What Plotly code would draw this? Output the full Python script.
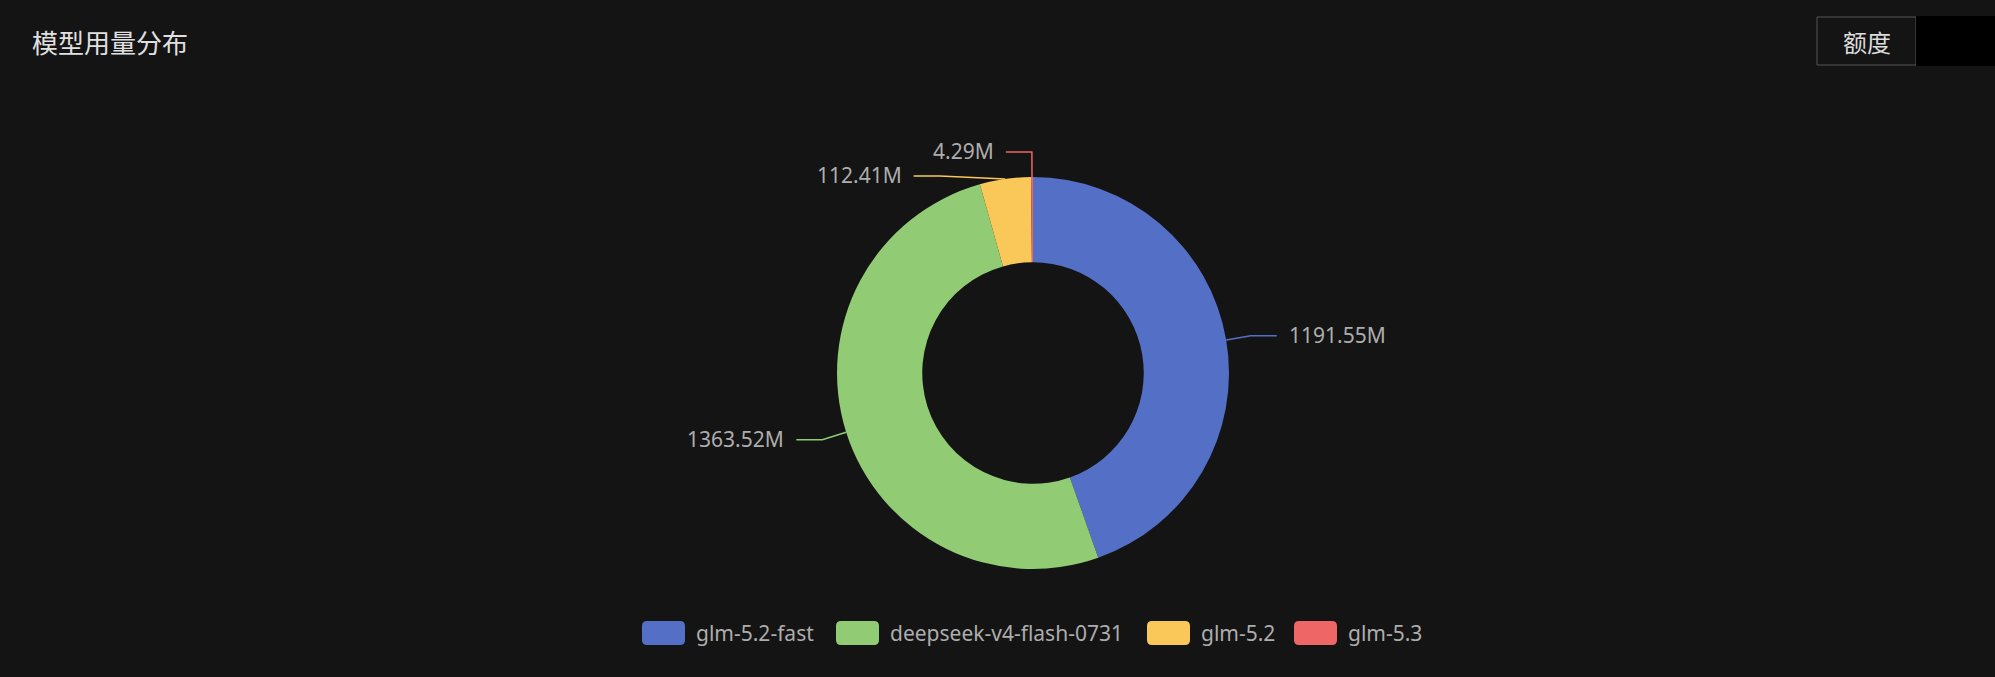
import math
import plotly.graph_objects as go

# chart data
models = ["glm-5.2-fast", "deepseek-v4-flash-0731", "glm-5.2", "glm-5.3"]
usage_m = [1191.55, 1363.52, 112.41, 4.29]
colors = ["#5470c6", "#91cc75", "#fac858", "#ee6666"]
title_text = "模型用量分布"
button_text = "额度"

# layout (pixels)
W, H = 1995, 677
BG = "#141414"
cx, cy, R = 1033, 373, 196
len1, len2, gap = 25, 26, 10
line_h = 24
legend_x = [642, 836, 1147, 1294]
legend_y = 633
latin = "Noto Sans, Noto Sans CJK SC, sans-serif"
cjk = "Noto Sans CJK SC, sans-serif"

fig = go.Figure()
fig.add_trace(go.Pie(
    labels=models, values=usage_m, hole=0.565, sort=False,
    direction="clockwise", rotation=0,
    marker=dict(colors=colors, line=dict(width=0)),
    textinfo="none", showlegend=False,
    domain=dict(x=[(cx - R) / W, (cx + R) / W], y=[1 - (cy + R) / H, 1 - (cy - R) / H]),
    hovertemplate="%{label}<br>%{value:.2f}M<extra></extra>",
))

# label lines, echarts style
total = sum(usage_m)
acc = 0
items = []
for name, v, c in zip(models, usage_m, colors):
    mid = (acc + v / 2) / total * 2 * math.pi
    acc += v
    sx, sy = math.sin(mid), -math.cos(mid)
    side = 1 if sx >= 0 else -1
    elbow = (cx + (R + len1) * sx, cy + (R + len1) * sy)
    items.append(dict(v=v, c=c, side=side, edge=(cx + R * sx, cy + R * sy),
                      elbow=elbow, y=elbow[1]))

# push overlapping labels apart, elbow slides along the circle
for side in (1, -1):
    group = sorted([it for it in items if it["side"] == side], key=lambda it: it["y"])
    for a, b in zip(group, group[1:]):
        if b["y"] - a["y"] < line_h:
            b["y"] = a["y"] + line_h
            dy = b["y"] - cy
            dx = math.sqrt(max((R + len1 - 3) ** 2 - dy ** 2, 0))
            b["elbow"] = (cx + side * dx, b["y"])

for it in items:
    ex = it["elbow"][0] + it["side"] * len2
    fig.add_trace(go.Scatter(
        x=[it["edge"][0], it["elbow"][0], ex], y=[it["edge"][1], it["y"], it["y"]],
        mode="lines", line=dict(color=it["c"], width=1.5),
        hoverinfo="skip", showlegend=False,
    ))
    fig.add_annotation(
        x=ex + it["side"] * gap, y=it["y"] - 1, text=f"{it['v']:.2f}M",
        xanchor="left" if it["side"] > 0 else "right", yanchor="middle",
        showarrow=False, font=dict(family=latin, size=21, color="#adadad"),
    )

# manual legend
def rounded(x0, y0, x1, y1, r):
    return (f"M{x0 + r},{y0} L{x1 - r},{y0} Q{x1},{y0} {x1},{y0 + r} "
            f"L{x1},{y1 - r} Q{x1},{y1} {x1 - r},{y1} L{x0 + r},{y1} "
            f"Q{x0},{y1} {x0},{y1 - r} L{x0},{y0 + r} Q{x0},{y0} {x0 + r},{y0} Z")

for name, c, lx in zip(models, colors, legend_x):
    fig.add_shape(type="path", path=rounded(lx, legend_y - 12, lx + 43, legend_y + 12, 5),
                  xref="x", yref="y", fillcolor=c, line=dict(width=0))
    fig.add_annotation(x=lx + 52, y=legend_y, text=name, xanchor="left", yanchor="middle",
                       showarrow=False, font=dict(family=latin, size=21, color="#adadad"))

# title and top-right button
fig.add_annotation(x=30, y=41, text=title_text, xanchor="left", yanchor="middle",
                   showarrow=False, font=dict(family=cjk, size=26, color="#e0e0e0"))
fig.add_shape(type="rect", x0=1817, x1=1916, y0=17, y1=65, xref="x", yref="y",
              line=dict(color="#555555", width=1), fillcolor=BG)
fig.add_shape(type="rect", x0=1916, x1=W, y0=16, y1=66, xref="x", yref="y",
              line=dict(width=0), fillcolor="#000000")
fig.add_annotation(x=1866.5, y=41, text=button_text, xanchor="center", yanchor="middle",
                   showarrow=False, font=dict(family=cjk, size=24, color="#dddddd"))

fig.update_layout(
    width=W, height=H, margin=dict(l=0, r=0, t=0, b=0),
    paper_bgcolor=BG, plot_bgcolor=BG,
    xaxis=dict(range=[0, W], visible=False, fixedrange=True),
    yaxis=dict(range=[H, 0], visible=False, fixedrange=True),
    showlegend=False,
)
fig.write_html("out.html", config={"displayModeBar": False},
               post_script="document.body.style.margin='0';document.body.style.overflow='hidden';document.body.style.background='#141414';")
